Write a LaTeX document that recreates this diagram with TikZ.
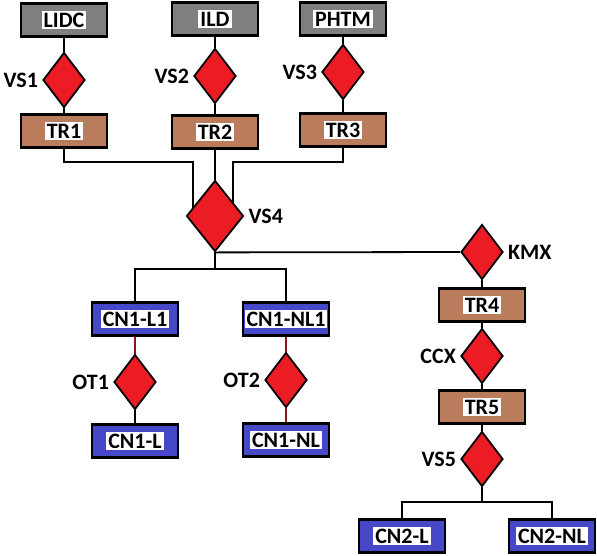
\documentclass[tikz,border=0pt]{standalone}
\usepackage{fontspec}
\setmainfont{Carlito}
\usetikzlibrary{shapes.geometric}
\usetikzlibrary{positioning}
\usetikzlibrary{backgrounds}
\definecolor{srcgray}{RGB}{127,127,127}
\definecolor{trbrown}{RGB}{185,125,94}
\definecolor{cnblue}{RGB}{70,72,200}
\definecolor{vsred}{RGB}{236,28,36}
\definecolor{linkred}{RGB}{140,20,30}
\newcommand{\hl}[1]{{\setlength{\fboxsep}{2pt}\colorbox{white}{#1}}}
\tikzset{
every node/.style={font=\fontsize{22}{24}\selectfont\bfseries},
every label/.style={inner sep=1pt},
label distance=3pt,
block/.style={ % the rectangles
draw, line width=2.5pt,
minimum width=86pt, minimum height=33pt, inner sep=0pt},
src/.style={block, fill=srcgray},
tr/.style={block, fill=trbrown},
cn/.style={block, fill=cnblue},
dec/.style={ % the red diamonds
diamond, draw, line width=1.8pt, fill=vsred, inner sep=0pt,
minimum width=42pt, minimum height=55pt},
link/.style={line width=1.8pt}}

\begin{document}
\begin{tikzpicture}[x=1pt,y=-1pt]
\useasboundingbox (0,0) rectangle (597,555);
% data sets
\node[src] (lidc) at (64,20) {\hl{LIDC}};
\node[src] (ild) at (215,19) {\hl{ILD}};
\node[src] (phtm) at (343,19) {\hl{PHTM}};
\node[dec, label=left:VS1] (vs1) at (64,80) {};
\node[dec, label=left:VS2] (vs2) at (215,76) {};
\node[dec, label=left:VS3] (vs3) at (343,72) {};
\node[tr] (tr1) at (64,131) {\hl{TR1}};
\node[tr] (tr2) at (215,132) {\hl{TR2}};
\node[tr] (tr3) at (343,130) {\hl{TR3}};
\node[dec, minimum width=57pt, minimum height=71pt, label=right:VS4] (vs4) at (215,216) {};
% right branch
\node[dec, label=right:KMX] (kmx) at (482,252) {};
\node[tr] (tr4) at (482,305) {\hl{TR4}};
\node[dec, label=left:CCX] (ccx) at (482,356) {};
\node[tr] (tr5) at (482,407) {\hl{TR5}};
\node[dec, label=left:VS5] (vs5) at (482,459) {};
\node[cn] (cn2l) at (402,536) {\hl{CN2-L}};
\node[cn] (cn2nl) at (552,536) {\hl{CN2-NL}};
% left branch
\node[cn] (cn1l1) at (135,319) {\hl{CN1-L1}};
\node[cn] (cn1nl1) at (286,319) {\hl{CN1-NL1}};
\node[dec, label=left:OT1] (ot1) at (135,382) {};
\node[dec, label=left:OT2] (ot2) at (286,380) {};
\node[cn] (cn1l) at (135,441) {\hl{CN1-L}};
\node[cn] (cn1nl) at (286,440) {\hl{CN1-NL}};
\coordinate (m1) at (193,162);
\coordinate (m3) at (233,162);
\coordinate (b1) at (215,269);
\coordinate (b2) at (482,502);

\begin{scope}[on background layer]
\draw[link] (lidc) -- (vs1) -- (tr1);
\draw[link] (ild) -- (vs2) -- (tr2);
\draw[link] (phtm) -- (vs3) -- (tr3);
\draw[link] (tr1.south) |- (m1) -- (m1 |- vs4.center);
\draw[link] (tr2) -- (vs4);
\draw[link] (tr3.south) |- (m3) -- (m3 |- vs4.center);
\draw[link] (vs4.south) -- (b1) -| (cn1l1);
\draw[link] (b1) -| (cn1nl1);
\draw[link] (vs4.south) -- (kmx.west);
\draw[link] (kmx) -- (tr4) -- (ccx) -- (tr5) -- (vs5);
\draw[link] (vs5) -- (b2) -| (cn2l);
\draw[link] (b2) -| (cn2nl);
\draw[link, linkred] (cn1l1) -- (ot1);
\draw[link] (ot1) -- (cn1l);
\draw[link, linkred] (cn1nl1) -- (ot2);
\draw[link, linkred] (ot2) -- (cn1nl);
\end{scope}
\end{tikzpicture}
\end{document}
